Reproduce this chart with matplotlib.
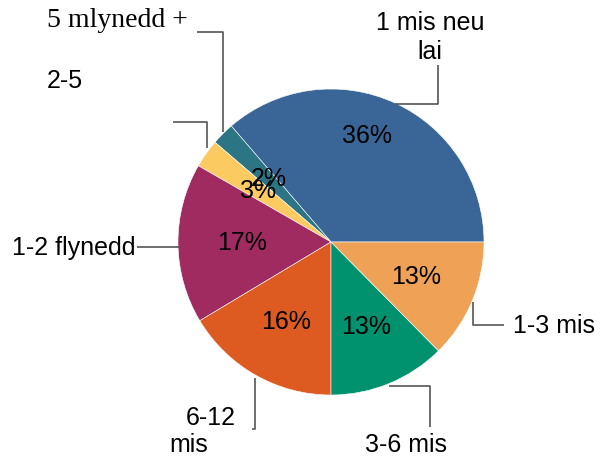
import numpy as np
import matplotlib
matplotlib.use("Agg")
import matplotlib.pyplot as plt

# ── Data ──────────────────────────────────────────────────────────────────────
categories = ["1 mis neu lai", "5 mlynedd +", "2-5", "1-2 flynedd",
              "6-12 mis", "3-6 mis", "1-3 mis"]
shares = [36.3, 2.4, 3.0, 16.9, 16.4, 12.4, 12.6]
pct_labels = ["36%", "2%", "3%", "17%", "16%", "13%", "13%"]
colors = ["#3A6597", "#2B7585", "#FBCB62", "#A02B61",
          "#DD5A21", "#00916F", "#EFA256"]

W, H = 603, 457
def Y(y):  # pixel row -> data y (y up)
    return H - y

plt.rcParams["font.family"] = "Liberation Sans"
FS = 18

fig = plt.figure(figsize=(W / 100, H / 100), dpi=100)
ax = fig.add_axes([0, 0, 1, 1])

cx, cy, r = 331, Y(242), 153
wedges, _ = ax.pie(shares, colors=colors, startangle=0, counterclock=True,
                   center=(cx, cy), radius=r,
                   wedgeprops=dict(edgecolor="white", linewidth=0.4))

# percentage labels inside the slices
pct_dist = [0.73, 0.58, 0.58, 0.58, 0.6, 0.6, 0.6]
pct_shift = [6, 0, 0, 0, 0, 0, 0]
for w, lab, d, s in zip(wedges, pct_labels, pct_dist, pct_shift):
    ang = np.deg2rad((w.theta1 + w.theta2) / 2 + s)
    ax.text(cx + d * r * np.cos(ang), cy + d * r * np.sin(ang), lab,
            ha="center", va="center", fontsize=FS, color="black")

# leader lines
lc = dict(color="#555555", linewidth=1.2, solid_capstyle="butt")
leaders = [
    [(395, 104), (438, 104), (438, 65)],
    [(197, 32), (223, 32), (223, 132)],
    [(173, 122), (207, 122), (207, 148)],
    [(137, 247), (179, 247)],
    [(255, 378), (255, 429), (252, 429)],
    [(389, 386), (430, 386), (430, 427)],
    [(473, 302), (473, 325), (504, 325)],
]
for pts in leaders:
    xs = [p[0] for p in pts]
    ys = [Y(p[1]) for p in pts]
    ax.plot(xs, ys, **lc)

# outer category labels
ax.text(430, Y(30), "1 mis neu", ha="center", va="baseline", fontsize=FS)
ax.text(430, Y(59), "lai", ha="center", va="baseline", fontsize=FS)
ax.text(47, Y(27), categories[1], ha="left", va="baseline", fontsize=20,
        family="Liberation Serif")
ax.text(47, Y(88), categories[2], ha="left", va="baseline", fontsize=FS)
ax.text(135, Y(255), categories[3], ha="right", va="baseline", fontsize=FS)
ax.text(236, Y(425), "6-12", ha="right", va="baseline", fontsize=FS)
ax.text(189, Y(452), "mis", ha="center", va="baseline", fontsize=FS)
ax.text(406, Y(452), categories[5], ha="center", va="baseline", fontsize=FS)
ax.text(513, Y(333), categories[6], ha="left", va="baseline", fontsize=FS)

ax.set_xlim(0, W)
ax.set_ylim(0, H)
ax.set_aspect("equal")
ax.axis("off")

fig.savefig("out.png", dpi=100, facecolor="white")
